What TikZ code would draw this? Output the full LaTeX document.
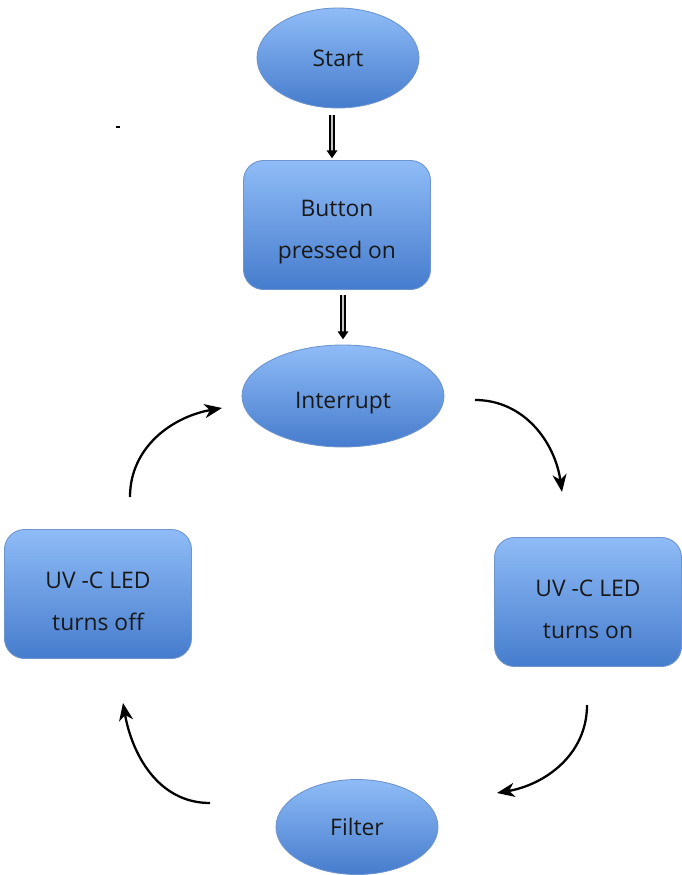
\documentclass[tikz,border=0pt]{standalone}
\usepackage{fontspec}
\setmainfont{Open Sans}
\usetikzlibrary{shapes.geometric,arrows.meta}

\definecolor{boxtop}{RGB}{143,188,247}
\definecolor{boxbot}{RGB}{70,124,205}
\definecolor{boxline}{RGB}{110,148,205}
\definecolor{txt}{RGB}{25,25,25}

% lower a line of text, keeping its box
\newcommand{\lowtext}[2][4pt]{\raisebox{-#1}[\height][\depth]{#2}}

\tikzset{
  blob/.style={ellipse, draw=boxline, line width=0.5pt, top color=boxtop,
    bottom color=boxbot, text=txt, inner sep=0pt,
    font=\fontsize{13}{24}\selectfont},
  stepbox/.style={rectangle, rounded corners=0.4cm, draw=boxline, line width=0.5pt,
    top color=boxtop, bottom color=boxbot, text=txt, align=center,
    minimum width=3.74cm, minimum height=2.58cm, inner sep=0pt,
    font=\fontsize{13}{24}\selectfont},
  dblarrow/.style={draw=black, double=gray!45, double distance=1.4pt,
    line width=0.9pt, -{Triangle[length=4.5pt,width=6pt]}},
  flow/.style={line width=1.3pt, -{Stealth[length=10pt,width=8pt,inset=3pt]}}
}

\begin{document}
\begin{tikzpicture}[x=0.02cm,y=-0.02cm]
\useasboundingbox (0,0) rectangle (682,875);

% top part
\node[blob, minimum width=3.24cm, minimum height=2cm] (start) at (338,58) {Start};
\node[stepbox] (button) at (337,225) {\lowtext{Button}\\\lowtext{pressed on}};
\node[blob, minimum width=4.04cm, minimum height=2.04cm] (intr) at (343,396) {\lowtext{Interrupt}};
\fill (116,126) rectangle (120,128);

\draw[dblarrow] ([yshift=-4pt]start.south -| 332,0) -- ([yshift=1pt]button.north -| 332,0);
\draw[dblarrow] ([yshift=-3pt]button.south -| 343,0) -- ([yshift=3pt]intr.north -| 343,0);

% the loop
\node[stepbox] (ledon) at (588,602) {\lowtext{UV -C LED}\\\lowtext{turns on}};
\node[blob, minimum width=3.24cm, minimum height=1.9cm] (filter) at (357,827) {Filter};
\node[stepbox] (ledoff) at (98,594) {\lowtext{UV -C LED}\\\lowtext{turns off}};

\coordinate (a1) at (475,400);
\coordinate (a2) at (562,492);
\coordinate (b1) at (587,705);
\coordinate (b2) at (497,793);
\coordinate (c1) at (210,803);
\coordinate (c2) at (123,703);
\coordinate (d1) at (130,497);
\coordinate (d2) at (222,408);

\draw[flow] (a1) to[out=0,in=98] (a2);
\draw[flow] (b1) to[out=-90,in=10] (b2);
\draw[flow] (c1) to[out=180,in=-80] (c2);
\draw[flow] (d1) to[out=90,in=190] (d2);

\end{tikzpicture}
\end{document}
